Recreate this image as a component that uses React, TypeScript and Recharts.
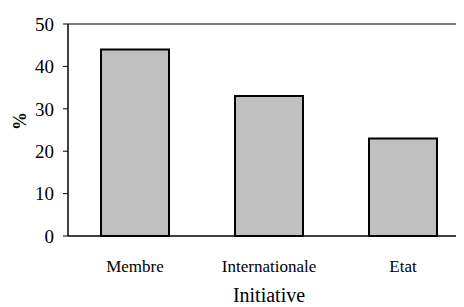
import * as React from 'react'
import { BarChart, Bar, XAxis, YAxis, ReferenceLine } from 'recharts'

const categories = ['Membre', 'Internationale', 'Etat']
const values = [44, 33, 23]
const yTicks = [0, 10, 20, 30, 40, 50]
const bandMarks = [0, 1, 2, 3]

const data = categories.map((name, i) => ({ name, value: values[i] }))

const FONT = "'Liberation Serif'"

export default function App() {
  return (
    <div style={{ width: 456, height: 299, overflow: 'hidden', fontFamily: FONT }}>
      <BarChart
        width={470}
        height={299}
        data={data}
        margin={{ top: 16, right: 8, left: 0, bottom: 0 }}
        barSize={68}
      >
        {/* tick marks sit on the category boundaries, not the centres */}
        <XAxis
          xAxisId="marks"
          type="number"
          domain={[0, 3]}
          ticks={bandMarks}
          height={0}
          tick={false}
          tickSize={6}
          axisLine={false}
          tickLine={{ stroke: '#000', strokeWidth: 1 }}
        />
        <XAxis
          dataKey="name"
          height={71}
          tickLine={false}
          tickSize={0}
          tickMargin={24}
          axisLine={{ stroke: '#000', strokeWidth: 1.5 }}
          tick={{ fill: '#000', fontSize: 17, style: { fontFamily: FONT } }}
          label={{ value: 'Initiative', position: 'insideBottom', offset: 5, fill: '#000', fontSize: 20, style: { fontFamily: FONT } }}
        />
        <YAxis
          domain={[0, 50]}
          ticks={yTicks}
          width={60}
          tickSize={5}
          tickMargin={9}
          axisLine={{ stroke: '#000', strokeWidth: 1.5 }}
          tickLine={{ stroke: '#000', strokeWidth: 1 }}
          tick={{ fill: '#000', fontSize: 19, style: { fontFamily: FONT } }}
          label={{ value: '%', angle: -90, position: 'insideLeft', offset: 12, fill: '#000', fontSize: 18, fontWeight: 'bold', style: { fontFamily: FONT } }}
        />
        <ReferenceLine y={50} stroke="#808080" strokeWidth={2} />
        <Bar dataKey="value" fill="#c0c0c0" stroke="#000" strokeWidth={2} isAnimationActive={false} />
      </BarChart>
    </div>
  )
}
